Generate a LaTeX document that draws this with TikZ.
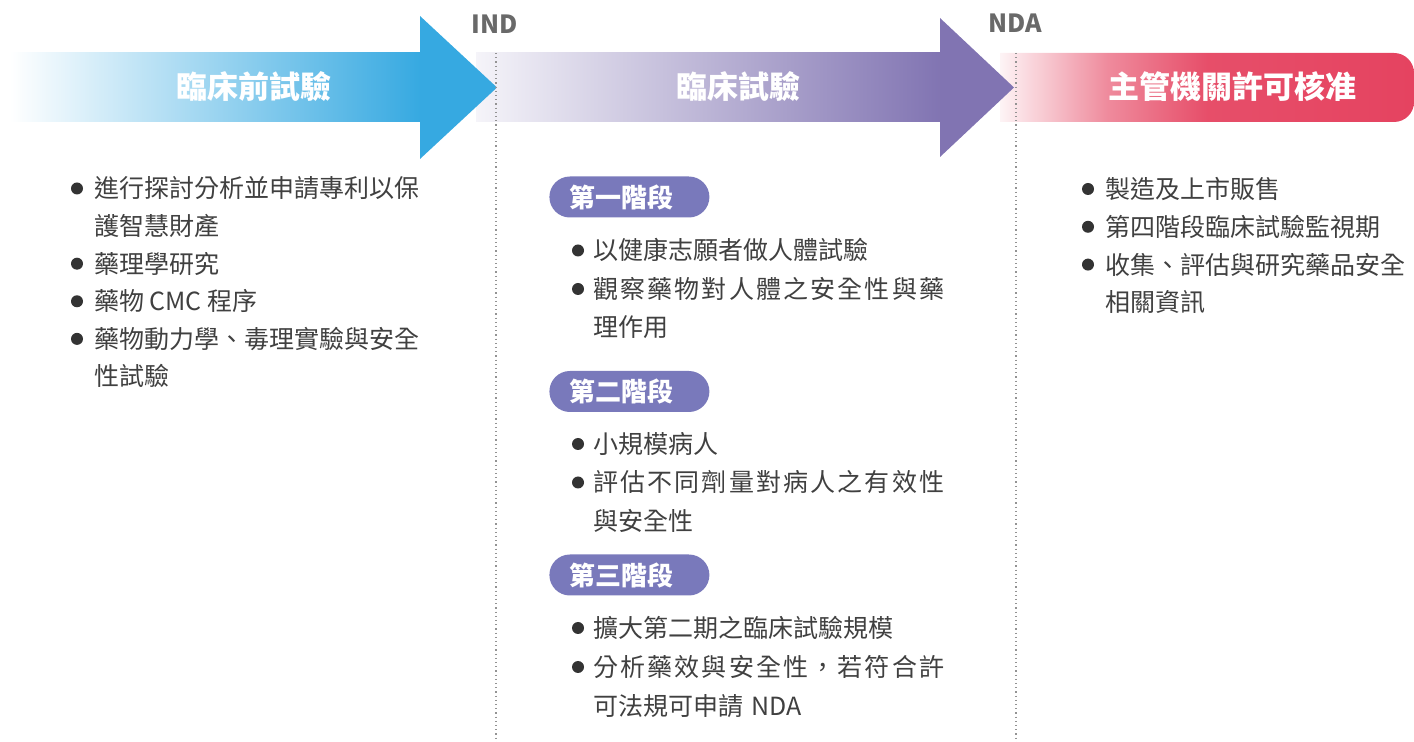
\documentclass[tikz,border=0pt]{standalone}
\usepackage{fontspec}
\newfontfamily\cjk{Noto Sans CJK TC}
\usetikzlibrary{positioning}
\definecolor{preblue}{RGB}{54,169,225}
\definecolor{trialpurple}{RGB}{129,116,178}
\definecolor{approvered}{RGB}{229,67,96}
\definecolor{phasecol}{RGB}{121,121,187}
\definecolor{bodytext}{RGB}{64,64,64}
\definecolor{milegray}{RGB}{105,105,105}
\pgfdeclarehorizontalshading{approvalshade}{100bp}{color(0bp)=(approvered!6); color(25bp)=(approvered!6);
    color(38bp)=(approvered!62); color(50bp)=(approvered!94); color(75bp)=(approvered); color(100bp)=(approvered)}

\begin{document}
\begin{tikzpicture}[x = 0.5pt, y = -0.5pt,
                    title/.style = {text = white, inner sep = 0,
                                    font = \cjk\bfseries\fontsize{15.5}{15.5}\selectfont},
                    milestone/.style = {text = milegray, inner sep = 0,
                                    font = \cjk\bfseries\fontsize{12.5}{12.5}\selectfont},
                    mileline/.style = {color = gray!85, line width = 0.65pt,
                                    dash pattern = on 0.65pt off 1.45pt},
                    phase/.style = {fill = phasecol, text = white, anchor = west,
                                    rounded corners = 10.25pt, minimum height = 20.5pt,
                                    inner xsep = 10pt, inner ysep = 0pt, text width = 60pt, align = left,
                                    font = \cjk\bfseries\fontsize{13}{13}\selectfont},
                    itemtxt/.style = {anchor = west, inner sep = 0, text = bodytext,
                                    text height = 11pt, text depth = 1.5pt,
                                    font = \cjk\fontsize{12.5}{12.5}\selectfont},
                    spread/.style = {font = \cjk\fontsize{12.5}{12.5}\selectfont\addfontfeatures{LetterSpace=8.6}},
                    bullet/.style = {fill = bodytext!80!black}]
    \useasboundingbox (0,0) rectangle (1414,742);
    %approval bar
    \shade[shading = approvalshade]
        (1000,53) [rounded corners = 10pt] -- (1414,53) -- (1414,122) [sharp corners] -- (1000,122) -- cycle;
    %clinical trial arrow
    \shade[left color = trialpurple!8, right color = trialpurple] (476,53) rectangle (941,122);
    \fill[trialpurple] (940,53) -- (940,18) -- (1014,87.5) -- (940,157) -- (940,122) -- cycle;
    %pre-clinical arrow
    \shade[left color = white, right color = preblue] (10,53) rectangle (421,122);
    \fill[preblue] (420,53) -- (420,16) -- (497,87.5) -- (420,159) -- (420,122) -- cycle;
    \node[title] (pretitle) at (254,87) {臨床前試驗};
    \node[title] (trialtitle) at (738,87) {臨床試驗};
    \node[title] (approvetitle) at (1232,87) {主管機關許可核准};
    %milestones
    \node[milestone] (ind) at (495,24) {IND};
    \node[milestone] (nda) at (1015,23) {NDA};
    \coordinate (indtop) at (496,53);
    \coordinate (indbot) at (496,742);
    \coordinate (ndatop) at (1016,53);
    \coordinate (ndabot) at (1016,742);
    \draw[mileline] (indtop) -- (indbot);
    \draw[mileline] (ndatop) -- (ndabot);
    %pre-clinical items
    \foreach \txt [count = \i] in {進行探討分析並申請專利以保, 護智慧財產, 藥理學研究,
                                 藥物\hspace{2.5pt}CMC\hspace{3pt}程序, 藥物動力學、毒理實驗與安全, 性試驗}
        \node[itemtxt] (pre\i) at (94, 188.5 + 37.6*\i - 37.6) {\txt};
    \foreach \i in {1,3,4,5}
        \fill[bullet] ([xshift = -8.5pt]pre\i.west) circle (3pt);
    %phase 1
    \node[phase] (ph1) at (549,197) {第一階段};
    \node[itemtxt] (p1a) at (593,250.5) {以健康志願者做人體試驗};
    \node[itemtxt, spread] (p1b) at (593,289) {觀察藥物對人體之安全性與藥};
    \node[itemtxt] (p1c) at (593,327.5) {理作用};
    %phase 2
    \node[phase] (ph2) at (549,391.5) {第二階段};
    \node[itemtxt] (p2a) at (593,444) {小規模病人};
    \node[itemtxt, spread] (p2b) at (593,482.5) {評估不同劑量對病人之有效性};
    \node[itemtxt] (p2c) at (593,521) {與安全性};
    %phase 3
    \node[phase] (ph3) at (549,575) {第三階段};
    \node[itemtxt] (p3a) at (593,628) {擴大第二期之臨床試驗規模};
    \node[itemtxt, spread] (p3b) at (593,667) {分析藥效與安全性，若符合許};
    \node[itemtxt] (p3c) at (593,706) {可法規可申請\hspace{4pt}NDA};
    \foreach \n in {p1a,p1b,p2a,p2b,p3a,p3b}
        \fill[bullet] ([xshift = -7.5pt]\n.west) circle (3pt);
    %approval items
    \foreach \txt [count = \i] in {製造及上市販售, 第四階段臨床試驗監視期,
                                 收集、評估與研究藥品安全, 相關資訊}
        \node[itemtxt] (app\i) at (1105, 189 + 37.8*\i - 37.8) {\txt};
    \foreach \i in {1,2,3}
        \fill[bullet] ([xshift = -8.5pt]app\i.west) circle (3pt);
\end{tikzpicture}
\end{document}
